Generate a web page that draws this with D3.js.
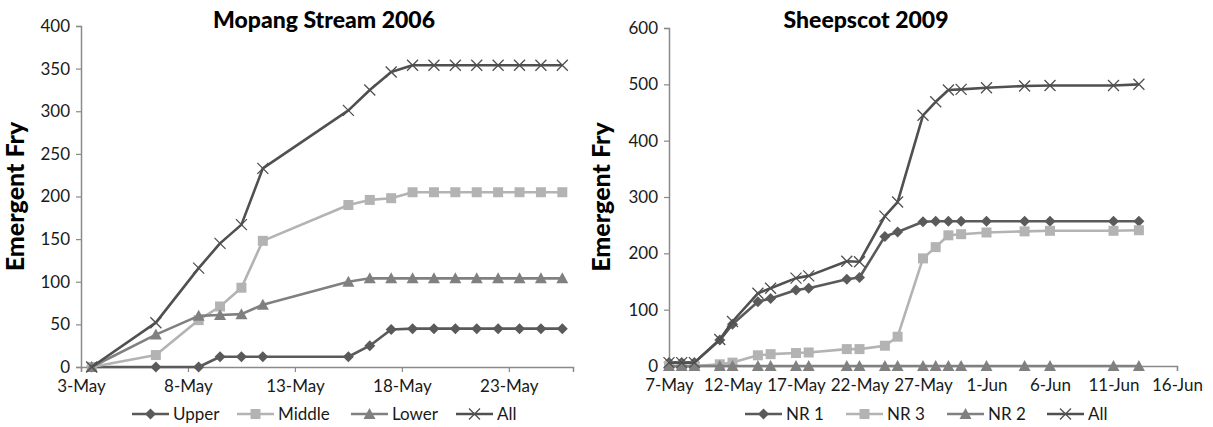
<!DOCTYPE html>
<html><head><meta charset="utf-8">
<script src="https://cdn.jsdelivr.net/npm/d3@7"></script>
<style>body{margin:0;background:#fff}svg{display:block}text{font-family:Lato,"Open Sans",sans-serif}</style>
</head><body>
<svg id="c" width="1213" height="427"></svg>
<script>
// ---- Left chart data (Mopang Stream 2006)
const leftDates = ["2006-05-03","2006-05-06","2006-05-08","2006-05-09","2006-05-10","2006-05-11","2006-05-15","2006-05-16","2006-05-17","2006-05-18","2006-05-19","2006-05-20","2006-05-21","2006-05-22","2006-05-23","2006-05-24","2006-05-25"];
const upper  = [0,0,0,12,12,12,12,25,44,45,45,45,45,45,45,45,45];
const middle = [0,14,55,71,93,148,190,196,198,205,205,205,205,205,205,205,205];
const lower  = [0,38,60,61,62,73,100,104,104,104,104,104,104,104,104,104,104];
const allL   = [0,52,116,145,167,233,301,325,346,354,354,354,354,354,354,354,354];
const leftYTicks = [0,50,100,150,200,250,300,350,400];
const leftXTicks = ["2006-05-03","2006-05-08","2006-05-13","2006-05-18","2006-05-23"];

// ---- Right chart data (Sheepscot 2009)
const rightDates = ["2009-05-07","2009-05-08","2009-05-09","2009-05-11","2009-05-12","2009-05-14","2009-05-15","2009-05-17","2009-05-18","2009-05-21","2009-05-22","2009-05-24","2009-05-25","2009-05-27","2009-05-28","2009-05-29","2009-05-30","2009-06-01","2009-06-04","2009-06-06","2009-06-11","2009-06-13"];
const nr1  = [6,6,6,46,74,114,120,135,138,154,157,230,238,256,257,257,257,257,257,257,257,257];
const nr3  = [0,0,0,3,6,19,21,23,24,30,30,36,52,191,211,232,234,237,239,240,240,241];
const nr2  = [0,0,0,0,0,0,0,0,0,0,0,0,0,0,0,0,0,0,0,0,0,0];
const allR = [6,6,6,47,79,129,138,156,160,186,185,266,291,445,469,490,491,494,497,498,498,500];
const rightYTicks = [0,100,200,300,400,500,600];
const rightXTicks = ["2009-05-07","2009-05-12","2009-05-17","2009-05-22","2009-05-27","2009-06-01","2009-06-06","2009-06-11","2009-06-16"];

const parse = d3.utcParse("%Y-%m-%d");
const fmt = d3.utcFormat("%-d-%b");
const svg = d3.select("#c");
const AXIS = "#8a8a8a";

const styles = {
  diamond:{color:"#5a5a5a"},
  square:{color:"#b3b3b3"},
  triangle:{color:"#808080"},
  cross:{color:"#505050"}
};

function marker(g, type, x, y, color){
  if(type==="diamond"){
    g.append("path").attr("d",`M${x},${y-5.5}L${x+5.5},${y}L${x},${y+5.5}L${x-5.5},${y}Z`).attr("fill",color);
  } else if(type==="square"){
    g.append("rect").attr("x",x-5).attr("y",y-5).attr("width",10).attr("height",10).attr("fill",color);
  } else if(type==="triangle"){
    g.append("path").attr("d",`M${x},${y-6}L${x+6},${y+5}L${x-6},${y+5}Z`).attr("fill",color);
  } else {
    g.append("path").attr("d",`M${x-5.5},${y-5.5}L${x+5.5},${y+5.5}M${x+5.5},${y-5.5}L${x-5.5},${y+5.5}`).attr("stroke",color).attr("stroke-width",1.3).attr("fill","none");
  }
}

function chart(o){
  const g = svg.append("g");
  const x = d3.scaleUtc().domain(o.xDomain.map(parse)).range([o.x0,o.x1]);
  const y = d3.scaleLinear().domain([0,o.yMax]).range([o.y0,o.y1]);
  // axes
  const yAx = g.append("g").attr("transform",`translate(${o.x0},0)`)
    .call(d3.axisLeft(y).tickValues(o.yTicks).tickSize(5).tickPadding(6));
  const xAx = g.append("g").attr("transform",`translate(0,${o.y0})`)
    .call(d3.axisBottom(x).tickValues(o.xTicks.map(parse)).tickFormat(fmt).tickSize(5).tickPadding(4));
  [yAx,xAx].forEach(a=>{
    a.select(".domain").attr("stroke",AXIS).attr("stroke-width",1.5);
    a.selectAll(".tick line").attr("stroke",AXIS).attr("stroke-width",1.2);
    a.selectAll("text").attr("fill","#1a1a1a").attr("font-size",17).attr("font-family","Lato, sans-serif");
  });
  xAx.selectAll("text").attr("dy","0.95em");
  // title
  g.append("text").attr("x",o.titleX).attr("y",28).attr("text-anchor","middle")
    .attr("font-size",23).attr("font-weight","900").attr("fill","#000").text(o.title);
  g.append("text").attr("transform",`translate(${o.labelX},${(o.y0+o.y1)/2}) rotate(-90)`)
    .attr("text-anchor","middle").attr("font-size",25).attr("font-weight","900").attr("fill","#000").text("Emergent Fry");
  // series
  o.series.forEach(s=>{
    const pts = o.dates.map((d,i)=>[x(d3.utcHour.offset(parse(d),o.offsetH)), y(s.values[i])]);
    g.append("path").attr("d",d3.line()(pts)).attr("fill","none")
      .attr("stroke",styles[s.type].color).attr("stroke-width",2.6).attr("stroke-linejoin","round");
    const mg = g.append("g");
    pts.forEach(p=>marker(mg,s.type,p[0],p[1],styles[s.type].color));
  });
  // legend
  const lg = g.append("g");
  o.series.forEach((s,i)=>{
    const lx = o.legendX[i], ly = 414;
    lg.append("line").attr("x1",lx).attr("x2",lx+37).attr("y1",ly).attr("y2",ly)
      .attr("stroke",styles[s.type].color).attr("stroke-width",2.6);
    marker(lg,s.type,lx+18.5,ly,styles[s.type].color);
    lg.append("text").attr("x",lx+41).attr("y",ly+6).attr("font-size",17).attr("fill","#1a1a1a").text(s.name);
  });
}

chart({
  title:"Mopang Stream 2006", titleX:324, labelX:24,
  x0:81, x1:573, y0:367, y1:26, yMax:400,
  xDomain:["2006-05-03","2006-05-26"], xTicks:leftXTicks, yTicks:leftYTicks,
  dates:leftDates, offsetH:12,
  series:[{name:"Upper",type:"diamond",values:upper},{name:"Middle",type:"square",values:middle},
          {name:"Lower",type:"triangle",values:lower},{name:"All",type:"cross",values:allL}],
  legendX:[132,237,351,456]
});
chart({
  title:"Sheepscot 2009", titleX:866, labelX:610,
  x0:669, x1:1177, y0:366, y1:28, yMax:600,
  xDomain:["2009-05-07","2009-06-16"], xTicks:rightXTicks, yTicks:rightYTicks,
  dates:rightDates, offsetH:0,
  series:[{name:"NR 1",type:"diamond",values:nr1},{name:"NR 3",type:"square",values:nr3},
          {name:"NR 2",type:"triangle",values:nr2},{name:"All",type:"cross",values:allR}],
  legendX:[745,846,947,1047]
});
</script>
</body></html>
